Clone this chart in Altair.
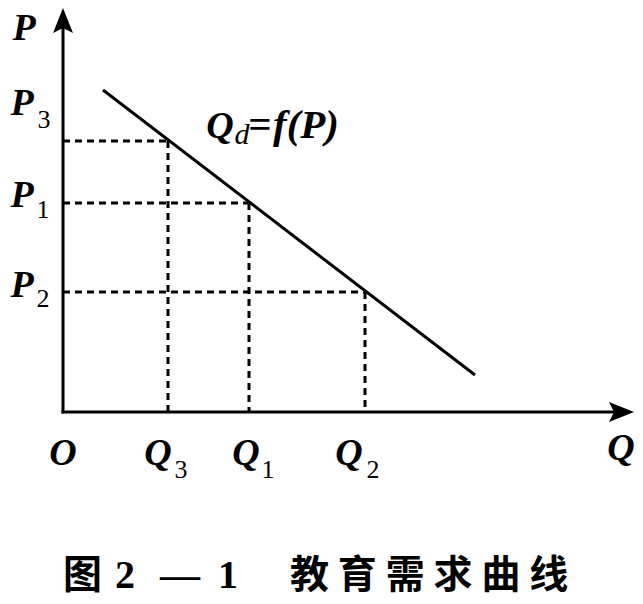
import altair as alt
import pandas as pd

# ---- data (units measured from the origin O, roughly one unit per pixel) ----
q_names = ["Q3", "Q1", "Q2"]
q_values = [105, 186, 302]
p_names = ["P3", "P1", "P2"]
p_values = [271, 209, 120]
demand_q = [40, 412]
demand_p = [322, 37]
axis_q_max = 571
axis_p_max = 404

SERIF = "'Liberation Serif', 'Times New Roman', Times, serif"
CJK = "'Noto Sans CJK SC', 'Noto Sans CJK TC', sans-serif"

W, H = 627, 588
XS = alt.Scale(domain=[-55, -55 + W], nice=False, zero=False)
YS = alt.Scale(domain=[404 - H, 404], nice=False, zero=False)


def X(f="x"):
    return alt.X(f"{f}:Q", scale=XS, axis=None)


def Y(f="y"):
    return alt.Y(f"{f}:Q", scale=YS, axis=None)


# axes
axes_df = pd.DataFrame({"x": [0, 0], "y": [0, 0],
                        "x2": [axis_q_max - 18, 0], "y2": [0, axis_p_max - 18]})
axes = alt.Chart(axes_df).mark_rule(color="black", strokeWidth=3, strokeCap="square").encode(
    x=X(), y=Y(), x2="x2:Q", y2="y2:Q")

arrow_x = alt.Chart(pd.DataFrame({"x": [axis_q_max], "y": [0]})).mark_point(
    shape="M0,0 L-2,-0.8 L-1.6,0 L-2,0.8 Z", size=625, filled=True, opacity=1,
    color="black", strokeWidth=0).encode(x=X(), y=Y())
arrow_y = alt.Chart(pd.DataFrame({"x": [0], "y": [axis_p_max]})).mark_point(
    shape="M0,0 L-0.8,2 L0,1.6 L0.8,2 Z", size=625, filled=True, opacity=1,
    color="black", strokeWidth=0).encode(x=X(), y=Y())

# dashed guide lines
guides_df = pd.DataFrame({"name": q_names, "q": q_values, "p": p_values, "zero": [0, 0, 0]})
h_dash = alt.Chart(guides_df).mark_rule(color="black", strokeWidth=3, strokeDash=[7, 5]).encode(
    x=X("zero"), x2="q:Q", y=Y("p"))
v_dash = alt.Chart(guides_df).mark_rule(color="black", strokeWidth=3, strokeDash=[7, 5]).encode(
    x=X("q"), y=Y("p"), y2="zero:Q")

# demand curve
demand_df = pd.DataFrame({"x": demand_q, "y": demand_p, "o": [0, 1]})
demand = alt.Chart(demand_df).mark_line(color="black", strokeWidth=3).encode(
    x=X(), y=Y(), order="o:Q")

# labels
big_df = pd.DataFrame({
    "t": ["P", "P", "P", "P", "O", "Q", "Q", "Q", "Q", "Q"],
    "x": [-39, -41, -41, -41, 0, 95, 183, 286, 558, 157],
    "y": [372, 297, 205, 115, -53, -53, -53, -53, -48, 274],
})
big = alt.Chart(big_df).mark_text(font=SERIF, fontSize=38, fontStyle="italic",
                                  fontWeight="bold", align="center", baseline="alphabetic",
                                  color="black").encode(x=X(), y=Y(), text="t:N")

sub_df = pd.DataFrame({
    "t": ["3", "1", "2", "3", "1", "2"],
    "x": [-19, -20, -20, 118, 205, 310],
    "y": [284, 194, 105, -66, -66, -66],
})
sub = alt.Chart(sub_df).mark_text(font=SERIF, fontSize=26, align="center",
                                  baseline="alphabetic", color="black").encode(
    x=X(), y=Y(), text="t:N")

d_df = pd.DataFrame({"t": ["d"], "x": [179], "y": [268]})
d_lab = alt.Chart(d_df).mark_text(font=SERIF, fontSize=30, fontStyle="italic",
                                  align="center", baseline="alphabetic",
                                  color="black").encode(x=X(), y=Y(), text="t:N")
f_df = pd.DataFrame({"t": ["=", "f(P)"], "x": [185, 210], "y": [274, 274]})
f_lab = alt.Chart(f_df).mark_text(font=SERIF, fontSize=41, fontStyle="italic",
                                  fontWeight="bold", align="left", baseline="alphabetic",
                                  color="black").encode(x=X(), y=Y(), text="t:N")

# caption
caption_fig = "图"
caption_num = ["2", "—", "1"]
caption_title = " ".join("教育需求曲线")
cap_y = -176
cap_cjk_df = pd.DataFrame({"t": [caption_fig, caption_title], "x": [0, 227], "y": [cap_y, cap_y]})
cap_cjk = alt.Chart(cap_cjk_df).mark_text(font=CJK, fontSize=39, fontWeight="bold",
                                          align="left", baseline="alphabetic",
                                          color="black").encode(x=X(), y=Y(), text="t:N")
cap_num_df = pd.DataFrame({"t": caption_num, "x": [62, 117, 165], "y": [cap_y] * 3})
cap_num = alt.Chart(cap_num_df).mark_text(font=SERIF, fontSize=40, fontWeight="bold",
                                          align="center", baseline="alphabetic",
                                          color="black").encode(x=X(), y=Y(), text="t:N")

chart = alt.layer(h_dash, v_dash, demand, axes, arrow_x, arrow_y, big, sub, d_lab, f_lab,
                  cap_cjk, cap_num).properties(
    width=W, height=H, autosize=alt.AutoSizeParams(type="none"), padding=0,
    background="white"
).configure_view(stroke=None)

chart.save("out.html", embed_options={"renderer": "svg", "actions": False})
